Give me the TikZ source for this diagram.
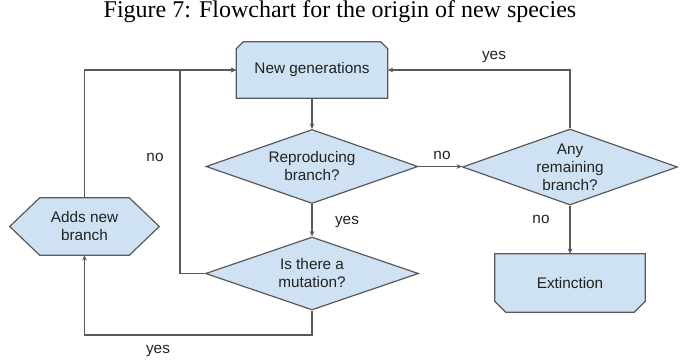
\documentclass[tikz,border=0pt]{standalone}
\usepackage{fontspec}
\setmainfont{Liberation Sans}
\newfontfamily\capfont{Liberation Serif}
\usetikzlibrary{shapes.geometric,arrows.meta,backgrounds}
\definecolor{boxfill}{HTML}{CFE2F3}
\definecolor{boxline}{HTML}{595959}
\definecolor{txt}{HTML}{222222}
\begin{document}
\begin{tikzpicture}[x=0.75pt,y=-0.75pt,
  lbl/.style={font=\fontsize{11.5}{13.5}\selectfont, text=txt, inner sep=0pt, align=center},
  dia/.style={diamond, draw=boxline, fill=boxfill, line width=0.9pt, inner sep=0pt, aspect=2.8, lbl},
  holder/.style={draw=none, inner sep=0pt, lbl},
  conn/.style={draw=boxline, line width=0.8pt},
  arr/.style={conn, -{Stealth[length=4pt,width=3.5pt]}},
  shapeline/.style={draw=boxline, fill=boxfill, line width=0.9pt}
]
\useasboundingbox (0,0) rectangle (680,360);
\node[font=\capfont\fontsize{18}{20}\selectfont, inner sep=0pt] (cap) at (340,12) {Figure 7: Flowchart for the origin of new species};

\node[holder, minimum width=113.25pt, minimum height=42pt] (ng) at (312,70) {New generations};
\node[dia, minimum width=159pt, minimum height=55.5pt] (rep) at (312,166.5) {Reproducing\\branch?};
\node[dia, minimum width=159.75pt, minimum height=54.75pt] (mut) at (312,273.5) {Is there a\\mutation?};
\node[dia, minimum width=161.25pt, minimum height=57pt] (any) at (570,167) {Any\\remaining\\branch?};
\node[holder, minimum width=112.5pt, minimum height=43.5pt] (ext) at (570,283) {Extinction};
\node[holder, minimum width=111.75pt, minimum height=42.75pt] (adds) at (84.5,226.5) {Adds new\\branch};

\begin{pgfonlayer}{background}
\path[shapeline] (ng.south west) -- ([yshift=-5.25pt]ng.north west) -- ([xshift=5.25pt]ng.north west)
  -- ([xshift=-5.25pt]ng.north east) -- ([yshift=-5.25pt]ng.north east) -- (ng.south east) -- cycle;
\path[shapeline] (ext.north west) -- ([yshift=8.25pt]ext.south west) -- ([xshift=8.25pt]ext.south west)
  -- ([xshift=-8.25pt]ext.south east) -- ([yshift=8.25pt]ext.south east) -- (ext.north east) -- cycle;
\path[shapeline] (adds.west) -- ([xshift=22.5pt]adds.north west) -- ([xshift=-22.5pt]adds.north east)
  -- (adds.east) -- ([xshift=-22.5pt]adds.south east) -- ([xshift=22.5pt]adds.south west) -- cycle;
\end{pgfonlayer}

\coordinate (j1) at (180,273.5);
\coordinate (j2) at (313,335);

\draw[arr] (ng.south) -- (rep.north);
\draw[arr] (rep.south) -- (mut.north);
\draw[arr] (rep.east) -- (rep.east -| any.west);
\draw[arr] (any.north) -- (any.north |- ng.east) -- (ng.east);
\draw[arr] (any.south) -- (ext.north);
\draw[arr] (mut.west) -- (j1) -- (j1 |- ng.west) -- (ng.west);
\draw[arr] (adds.north) -- (adds.north |- ng.west) -- (ng.west);
\draw[arr] (mut.south) -- (mut.south |- j2) -- (j2 -| adds.south) -- (adds.south);

\node[lbl] (l1) at (347,222) {yes};
\node[lbl] (l2) at (442,155) {no};
\node[lbl] (l3) at (494,57) {yes};
\node[lbl] (l4) at (541,219) {no};
\node[lbl] (l5) at (155,157) {no};
\node[lbl] (l6) at (158,351) {yes};
\end{tikzpicture}
\end{document}
